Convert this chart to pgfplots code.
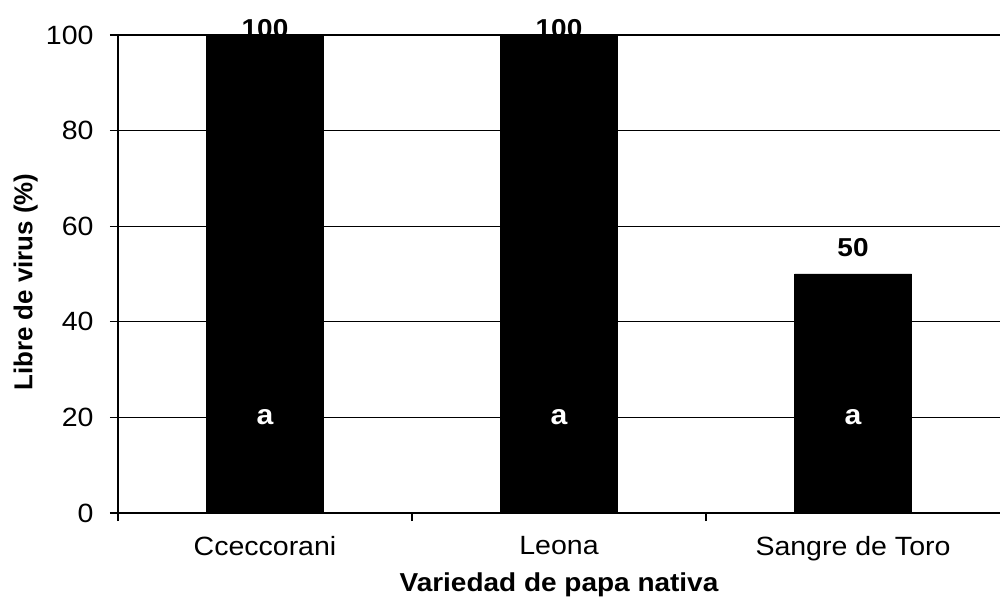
\documentclass[border=0pt]{standalone}
\usepackage{fontspec}
\setmainfont{Liberation Sans}
\newfontfamily\hfont[FakeStretch=1.08]{Liberation Sans}
\usepackage{pgfplots}
\pgfplotsset{compat=1.18}
\pgfplotstableread{
x y
0 100
1 100
2 50
}\datatab
\begin{document}
\begin{tikzpicture}
\path[use as bounding box] (-118bp,-90bp) rectangle (882bp,513bp);
\begin{axis}[
  at={(0,0)}, anchor=south west,
  scale only axis, width=882bp, height=478bp,
  xmin=-0.5, xmax=2.5, ymin=0, ymax=100,
  axis x line*=bottom, axis y line*=left,
  axis line style={line width=1.6bp, black},
  clip=false,
  ytick={0,20,...,100},
  ymajorgrids, grid style={black, line width=1.2bp},
  xtick={0,1,2},
  xticklabels={Cceccorani, Leona, Sangre de Toro},
  major x tick style={draw=none},
  minor xtick={-0.5,0.5,1.5},
  tick align=outside, major tick length=8bp, minor tick length=8bp,
  tick style={black, line width=1.2bp},
  /pgf/number format/assume math mode=true,
  tick label style={font=\hfont\fontsize{26.5}{30}\selectfont},
  xticklabel style={yshift=-12bp},
  yticklabel style={xshift=-13bp},
  xlabel={Variedad de papa nativa},
  ylabel={Libre de virus (\%)},
  every axis x label/.style={at={(axis description cs:0.5,-0.1255)}, anchor=north, inner sep=0pt, font=\hfont\bfseries\fontsize{26}{30}\selectfont},
  every axis y label/.style={at={(axis description cs:-0.0907,0.483)}, rotate=90, anchor=south, inner sep=0pt, font=\bfseries\fontsize{26}{30}\selectfont},
]
\addplot[ybar, fill=black, draw=black, bar width=117bp] table[x=x, y=y] {\datatab};
\node[anchor=base, inner sep=0pt, font=\hfont\bfseries\fontsize{26}{30}\selectfont, yshift=-3bp] at (axis cs:0,100) {100};
\node[anchor=base, inner sep=0pt, font=\hfont\bfseries\fontsize{26}{30}\selectfont, yshift=-3bp] at (axis cs:1,100) {100};
\node[anchor=south, inner sep=0pt, font=\hfont\bfseries\fontsize{26}{30}\selectfont, yshift=17bp] at (axis cs:2,50) {50};
\node[text=white, inner sep=0pt, font=\hfont\bfseries\fontsize{28}{30}\selectfont] at (axis cs:0,20) {a};
\node[text=white, inner sep=0pt, font=\hfont\bfseries\fontsize{28}{30}\selectfont] at (axis cs:1,20) {a};
\node[text=white, inner sep=0pt, font=\hfont\bfseries\fontsize{28}{30}\selectfont] at (axis cs:2,20) {a};
\end{axis}
\end{tikzpicture}
\end{document}
